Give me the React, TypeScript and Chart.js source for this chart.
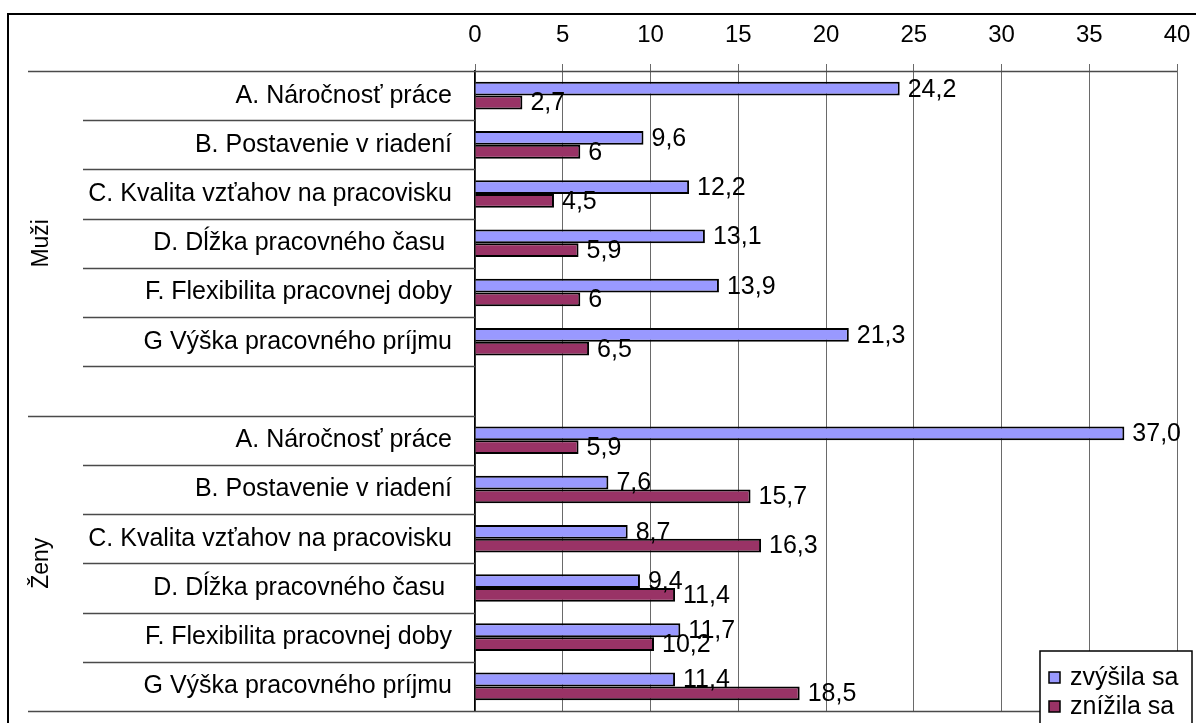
import React, { useEffect, useRef } from 'react';
import { Chart, registerables } from 'chart.js';

Chart.register(...registerables);

const FONT = "'Liberation Sans', Arial, sans-serif";

const categories = [
  'A. Náročnosť práce',
  'B. Postavenie v riadení',
  'C. Kvalita vzťahov na pracovisku',
  'D. Dĺžka pracovného času ',
  'F. Flexibilita pracovnej doby',
  'G Výška pracovného príjmu',
];
const groups = ['Muži', 'Ženy'];
const seriesNames = ['zvýšila sa', 'znížila sa'];
const seriesColors = ['#9999FF', '#993366'];

const muziZvysila = [24.2, 9.6, 12.2, 13.1, 13.9, 21.3];
const muziZnizila = [2.7, 6, 4.5, 5.9, 6, 6.5];
const zenyZvysila = [37.0, 7.6, 8.7, 9.4, 11.7, 11.4];
const zenyZnizila = [5.9, 15.7, 16.3, 11.4, 10.2, 18.5];

const muziZvysilaText = ['24,2', '9,6', '12,2', '13,1', '13,9', '21,3'];
const muziZnizilaText = ['2,7', '6', '4,5', '5,9', '6', '6,5'];
const zenyZvysilaText = ['37,0', '7,6', '8,7', '9,4', '11,7', '11,4'];
const zenyZnizilaText = ['5,9', '15,7', '16,3', '11,4', '10,2', '18,5'];

const xTicks = [0, 5, 10, 15, 20, 25, 30, 35, 40];

const yLabels = [...categories, '', ...categories];
const zvysilaData = [...muziZvysila, null, ...zenyZvysila];
const znizilaData = [...muziZnizila, null, ...zenyZnizila];
const labelTexts = [
  [...muziZvysilaText, '', ...zenyZvysilaText],
  [...muziZnizilaText, '', ...zenyZnizilaText],
];

const overlayPlugin = {
  id: 'overlay',
  beforeDraw(chart: any) {
    const ctx = chart.ctx;
    ctx.save();
    ctx.fillStyle = '#ffffff';
    ctx.fillRect(0, 0, chart.width, chart.height);
    ctx.strokeStyle = '#000000';
    ctx.lineWidth = 2;
    ctx.strokeRect(8, 14, 1400, 900);
    ctx.restore();
  },
  afterDatasetsDraw(chart: any) {
    const ctx = chart.ctx;
    ctx.save();
    ctx.font = `25px ${FONT}`;
    ctx.fillStyle = '#000';
    ctx.textAlign = 'left';
    ctx.textBaseline = 'middle';
    chart.data.datasets.forEach((ds: any, di: number) => {
      const meta = chart.getDatasetMeta(di);
      meta.data.forEach((el: any, i: number) => {
        const t = labelTexts[di][i];
        if (!t) return;
        ctx.fillText(t, el.x + 8, el.y + 1);
      });
    });
    ctx.restore();
  },
  afterDraw(chart: any) {
    const ctx = chart.ctx;
    const y = chart.scales.y;
    const area = chart.chartArea;
    const n = yLabels.length;
    const step = y.getPixelForValue(1) - y.getPixelForValue(0);
    const bound = (i: number) => y.getPixelForValue(0) - step / 2 + i * step;
    const groupBreak = categories.length + 1;
    ctx.save();
    ctx.strokeStyle = '#4a4a4a';
    ctx.lineWidth = 1.5;
    for (let i = 0; i <= n; i++) {
      const yy = Math.round(bound(i)) + 0.5;
      let x0 = 83;
      let x1 = area.left;
      if (i === 0 || i === n) {
        x0 = 28;
        x1 = area.right;
      } else if (i === groupBreak) {
        x0 = 28;
      }
      ctx.beginPath();
      ctx.moveTo(x0, yy);
      ctx.lineTo(x1, yy);
      ctx.stroke();
    }
    // group labels
    ctx.fillStyle = '#000';
    ctx.font = `23px ${FONT}`;
    ctx.textAlign = 'center';
    ctx.textBaseline = 'middle';
    const spans = [
      [0, groupBreak],
      [groupBreak, n],
    ];
    groups.forEach((g, gi) => {
      const cy = (bound(spans[gi][0]) + bound(spans[gi][1])) / 2;
      ctx.save();
      ctx.translate(42, cy);
      ctx.rotate(-Math.PI / 2);
      ctx.fillText(g, 0, 0);
      ctx.restore();
    });
    // legend
    const lx = 1040;
    const ly = 651;
    ctx.fillStyle = '#ffffff';
    ctx.fillRect(lx, ly, 152, 90);
    ctx.strokeStyle = '#000';
    ctx.lineWidth = 1.5;
    ctx.strokeRect(lx, ly, 152, 90);
    const centers = [678, 707];
    seriesNames.forEach((name, i) => {
      const cy = centers[i];
      ctx.fillStyle = seriesColors[i];
      ctx.fillRect(1049, cy - 6, 11, 11);
      ctx.strokeStyle = '#000';
      ctx.lineWidth = 1.5;
      ctx.strokeRect(1049, cy - 6, 11, 11);
      ctx.fillStyle = '#000';
      ctx.font = `25px ${FONT}`;
      ctx.textAlign = 'left';
      ctx.textBaseline = 'middle';
      ctx.fillText(name, 1070, cy);
    });
    ctx.restore();
  },
};

export default function App() {
  const ref = useRef<HTMLCanvasElement | null>(null);
  useEffect(() => {
    if (!ref.current) return;
    const chart = new Chart(ref.current, {
      type: 'bar',
      data: {
        labels: yLabels,
        datasets: [
          {
            label: seriesNames[0],
            data: zvysilaData,
            backgroundColor: seriesColors[0],
            borderColor: '#000',
            borderWidth: 2,
            categoryPercentage: 0.56,
            barPercentage: 1.0,
          },
          {
            label: seriesNames[1],
            data: znizilaData,
            backgroundColor: seriesColors[1],
            borderColor: '#000',
            borderWidth: 2,
            categoryPercentage: 0.56,
            barPercentage: 1.0,
          },
        ],
      },
      options: {
        indexAxis: 'y',
        animation: false,
        responsive: false,
        maintainAspectRatio: false,
        devicePixelRatio: 1,
        layout: { padding: { left: 0, right: 19, top: 0, bottom: 12 } },
        plugins: {
          legend: { display: false },
          tooltip: { enabled: false },
          title: { display: false },
        },
        scales: {
          x: {
            position: 'top',
            min: 0,
            max: 40,
            afterFit: (s: any) => {
              s.height = 71;
              s.paddingLeft = 0;
              s.paddingRight = 0;
            },
            afterBuildTicks: (s: any) => {
              s.ticks = xTicks.map((v) => ({ value: v }));
            },
            ticks: {
              stepSize: 5,
              color: '#000',
              font: { family: FONT, size: 24 },
              padding: 14,
            },
            grid: {
              color: '#6a6a6a',
              lineWidth: 1,
              tickLength: 7,
              drawTicks: true,
            },
            border: { display: false },
          },
          y: {
            afterFit: (s: any) => {
              s.width = 475;
              s.paddingTop = 0;
              s.paddingBottom = 0;
            },
            ticks: {
              autoSkip: false,
              color: '#000',
              font: { family: FONT, size: 25 },
              padding: 23,
            },
            grid: { display: false, drawTicks: false, tickLength: 0 },
            border: { display: true, color: '#000', width: 1.5 },
          },
        },
      },
      plugins: [overlayPlugin],
    } as any);
    return () => chart.destroy();
  }, []);
  return (
    <div style={{ position: 'absolute', left: 0, top: 0, width: 1196, height: 723 }}>
      <canvas ref={ref} width={1196} height={723} style={{ width: 1196, height: 723 }} />
    </div>
  );
}
